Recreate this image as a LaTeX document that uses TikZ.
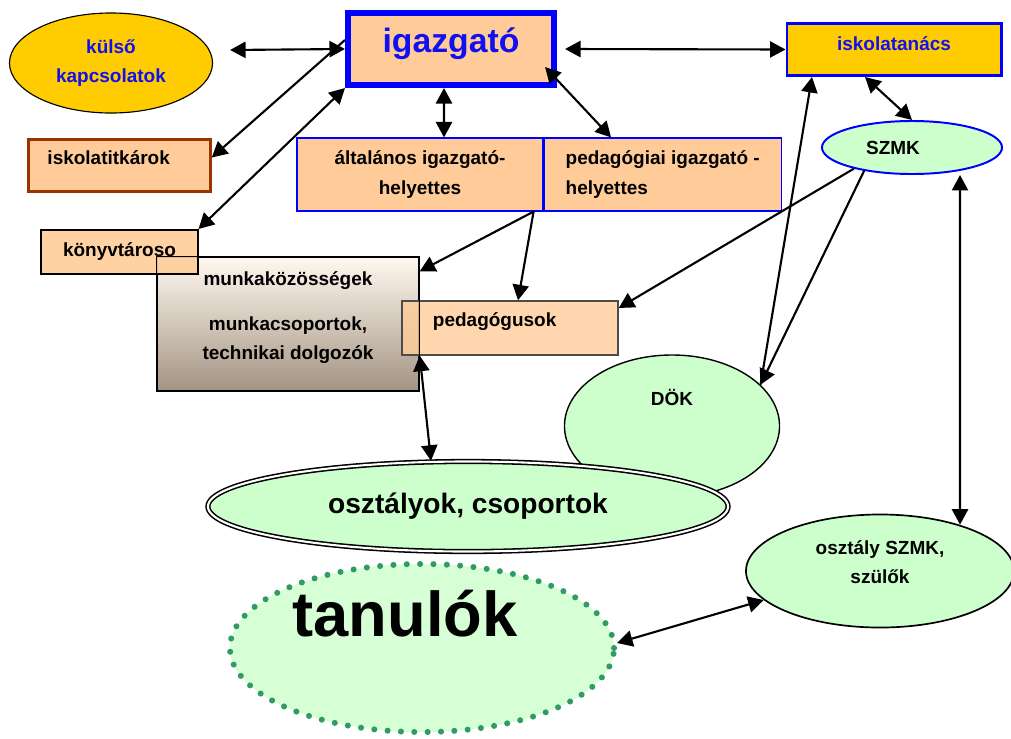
\documentclass[tikz,border=0pt]{standalone}
\usepackage{fontspec}
\setmainfont{Liberation Sans}
\usetikzlibrary{shapes.geometric, arrows.meta, positioning}

\definecolor{peach}{HTML}{FFCC99}
\definecolor{gold}{HTML}{FFCC00}
\definecolor{lgreen}{HTML}{CCFFCC}
\definecolor{tgreen}{HTML}{D6FFD6}
\definecolor{dotgreen}{HTML}{339966}
\definecolor{brownline}{HTML}{993300}
\definecolor{munkatop}{HTML}{FFF8F0}
\definecolor{munkabot}{HTML}{A39482}
\definecolor{textblue}{HTML}{1010F0}

\newcommand{\normtext}{\fontsize{13.5}{21}\selectfont\bfseries}
\newcommand{\bigtext}{\fontsize{24}{28}\selectfont\bfseries}
\newcommand{\hugetext}{\fontsize{20}{24}\selectfont\bfseries}
\newcommand{\tantext}{\fontsize{45}{45}\selectfont\bfseries}

\begin{document}
\begin{tikzpicture}[x=0.025cm, y=-0.025cm,
                box/.style={rectangle, draw, fill=peach, inner sep=0pt, font=\normtext},
                oval/.style={ellipse, draw, fill=lgreen, inner sep=0pt, font=\normtext},
                biarrow/.style={line width=1.5pt, {Triangle[length=11pt,width=11.5pt]}-{Triangle[length=11pt,width=11.5pt]}},
                dirarrow/.style={line width=1.5pt, -{Triangle[length=11pt,width=11.5pt]}}
            ]
                \useasboundingbox (0,0) rectangle (1011,738);

                \node[oval, fill=gold, line width=0.8pt, text=textblue, align=center, minimum width=5.075cm, minimum height=2.5cm] (kulso) at (111,63) {külső\\kapcsolatok};
                \node[box, draw=blue, line width=4.3pt, text=textblue, font=\bigtext, minimum width=5.15cm, minimum height=1.8cm, text depth=12pt] (igazgato) at (451,49) {igazgató};
                \node[box, fill=gold, draw=blue, line width=2.1pt, text=textblue, minimum width=5.35cm, minimum height=1.3cm, text depth=9pt] (iskolatanacs) at (894,49.5) {iskolatanács};

                \node[box, draw=brownline, line width=1.8pt, minimum width=4.5cm, minimum height=1.3cm, text width=3.6cm, inner xsep=0.475cm, align=left, text depth=11pt] (iskolatitkarok) at (119.5,165.5) {iskolatitkárok};
                \node[box, draw=blue, line width=0.8pt, minimum width=6.15cm, minimum height=1.825cm, align=center] (altalanos) at (420,174.5) {általános igazgató-\\helyettes};
                \node[box, draw=blue, line width=0.8pt, minimum width=5.925cm, minimum height=1.825cm, align=left, right=0pt of altalanos] (pedagogiai) {pedagógiai igazgató -\\helyettes};
                \node[oval, draw=blue, line width=1.4pt, minimum width=4.5cm, minimum height=1.325cm] (szmk) at (912,147.5) {SZMK\hspace*{27pt}};

                \node[rectangle, draw, line width=1pt, top color=munkatop, bottom color=munkabot, font=\normtext, align=center, minimum width=6.55cm, minimum height=3.35cm, text depth=12pt] (munka) at (288,324) {munkaközösségek\\[11pt]munkacsoportok,\\technikai dolgozók};
                \node[box, line width=1.4pt, fill opacity=0.9, text opacity=1, minimum width=3.9cm, minimum height=1.1cm] (konyvtaroso) at (119.5,252) {könyvtároso};
                \node[box, draw=black!70, line width=1pt, fill opacity=0.8, text opacity=1, minimum width=5.4cm, minimum height=1.35cm, text width=3.85cm, inner xsep=0.775cm, align=left, text depth=12pt] (pedagogusok) at (510,328) {pedagógusok};
                \draw[line width=1pt] (munka.north west) rectangle (munka.south east);

                \node[oval, line width=1pt, minimum width=5.375cm, minimum height=3.55cm, text depth=41pt] (dok) at (672,426) {DÖK};
                \node[oval, line width=1.1pt, double, double distance=1.5pt, font=\hugetext, minimum width=13cm, minimum height=2.25cm] (osztalyok) at (468,506.5) {osztályok, csoportok};
                \node[oval, line width=1.2pt, align=center, minimum width=6.7cm, minimum height=2.825cm, text depth=13pt] (oszmk) at (880,571) {osztály SZMK,\\szülők};
                \node[oval, fill=tgreen, draw=dotgreen, line width=4.3pt, line cap=round, dash pattern=on 0pt off 9.5pt, font=\tantext, minimum width=9.6cm, minimum height=4.2cm, text depth=50pt] (tanulok) at (422,648) {tanulók\hspace*{24pt}};

                \draw[biarrow] ([xshift=0.425cm,yshift=0.325cm]kulso.east) -- (igazgato.west);
                \draw[dirarrow] ([yshift=0.225cm]igazgato.west) -- ([yshift=0.2cm]iskolatitkarok.east);
                \draw[biarrow] (konyvtaroso.north east) -- (igazgato.south west);
                \draw[biarrow] ([xshift=-0.175cm]igazgato.south) -- ([xshift=0.6cm]altalanos.north);
                \draw[biarrow] ([xshift=-0.3cm,yshift=-0.45cm]igazgato.east) -- ([xshift=-1.29cm]pedagogiai.north);
                \draw[biarrow] ([xshift=0.2cm]igazgato.east) -- (iskolatanacs.west);
                \draw[biarrow] ([xshift=-0.725cm]iskolatanacs.south) -- (szmk.north);
                \draw[dirarrow] (dok.25) -- ([xshift=-2.05cm]iskolatanacs.south);
                \draw[dirarrow] (szmk.206) -- (dok.25);
                \draw[dirarrow] (szmk.200) -- ([yshift=0.5cm]pedagogusok.east);
                \draw[biarrow] ([xshift=1.2cm]szmk.south) -- ([xshift=2cm,yshift=-0.275cm]oszmk.north);
                \draw[dirarrow] ([xshift=-0.25cm]altalanos.south east) -- ([yshift=-0.375cm]munka.north east);
                \draw[dirarrow] ([xshift=-0.25cm]altalanos.south east) -- ([xshift=0.2cm]pedagogusok.north);
                \draw[biarrow] (pedagogusok.south west -| munka.east) -- ([xshift=-0.925cm]osztalyok.north);
                \draw[biarrow] ([yshift=0.125cm]tanulok.east) -- (oszmk.194);
            \end{tikzpicture}
\end{document}
